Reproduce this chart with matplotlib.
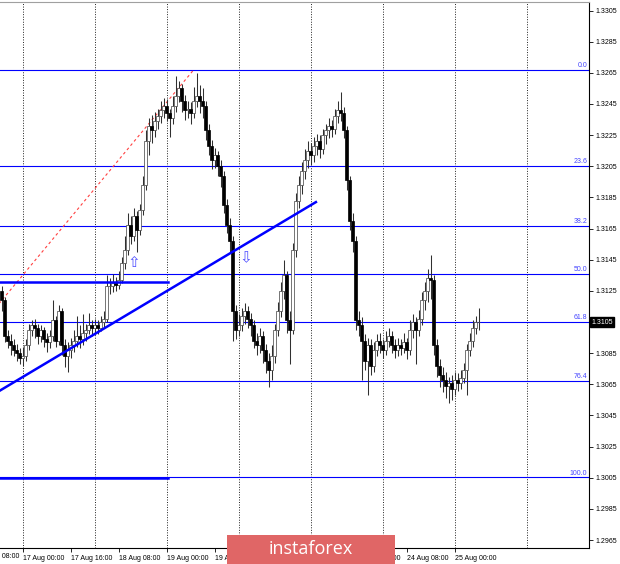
"""
GBP/USD H1 chart with Fibonacci retracement, trend line and levels
(MetaTrader style screenshot recreation).
"""

import numpy as np
import matplotlib
matplotlib.use("Agg")
import matplotlib.pyplot as plt
from matplotlib.patches import Rectangle
from matplotlib.transforms import blended_transform_factory

# =============================================================================
# Data (H1 candles, open = previous close)
# =============================================================================

first_open = 1.3125

closes = [
    1.3119, 1.3096, 1.3093, 1.3090, 1.3087, 1.3085, 1.3082, 1.3083,
    1.3090, 1.3100, 1.3103, 1.3101,
    1.3096, 1.3100, 1.3094, 1.3092, 1.3096,
    1.3106, 1.3093, 1.3112, 1.3090, 1.3083, 1.3087,
    1.3090, 1.3093, 1.3096, 1.3094, 1.3098, 1.3100, 1.3103, 1.3101, 1.3103,
    1.3101, 1.3105, 1.3107,
    1.3128, 1.3128, 1.3130, 1.3129, 1.3132,
    1.3143, 1.3151, 1.3167, 1.3160, 1.3173, 1.3164,
    1.3177, 1.3193, 1.3221, 1.3231,
    1.3228, 1.3234, 1.3237, 1.3241, 1.3244, 1.3239,
    1.3236, 1.3244, 1.3250, 1.3255, 1.3247,
    1.3241, 1.3242, 1.3239, 1.3247,
    1.3250, 1.3247, 1.3244,
    1.3228, 1.3218, 1.3209, 1.3212, 1.3205, 1.3199,
    1.3180, 1.3167, 1.3157, 1.3112,
    1.3100, 1.3103, 1.3109, 1.3112, 1.3107, 1.3103,
    1.3093, 1.3090, 1.3096, 1.3087, 1.3080, 1.3074, 1.3083,
    1.3100, 1.3112, 1.3125, 1.3135, 1.3106, 1.3100,
    1.3151, 1.3183, 1.3193, 1.3202, 1.3209,
    1.3215, 1.3212, 1.3218, 1.3221, 1.3216,
    1.3225, 1.3228, 1.3231, 1.3229, 1.3237, 1.3241, 1.3239,
    1.3228, 1.3196, 1.3170, 1.3157, 1.3106,
    1.3103, 1.3093, 1.3080, 1.3090, 1.3077, 1.3087,
    1.3093, 1.3090, 1.3087, 1.3093, 1.3096, 1.3090, 1.3087,
    1.3090, 1.3088, 1.3092, 1.3087, 1.3100,
    1.3105, 1.3100, 1.3107, 1.3119, 1.3125, 1.3133, 1.3132,
    1.3090, 1.3077, 1.3071, 1.3068,
    1.3064, 1.3066, 1.3062, 1.3068, 1.3066, 1.3069, 1.3074,
    1.3087, 1.3093, 1.3101, 1.3105, 1.3105,
]

highs = [
    1.3128, 1.3121, 1.3100, 1.3097, 1.3094, 1.3091, 1.3088, 1.3089,
    1.3094, 1.3104, 1.3106, 1.3107,
    1.3104, 1.3103, 1.3102, 1.3098, 1.3100,
    1.3119, 1.3109, 1.3116, 1.3114, 1.3094, 1.3092,
    1.3095, 1.3100, 1.3109, 1.3103, 1.3110, 1.3104, 1.3111, 1.3106, 1.3107,
    1.3106, 1.3109, 1.3112,
    1.3135, 1.3133, 1.3136, 1.3134, 1.3138,
    1.3147, 1.3160, 1.3175, 1.3173, 1.3178, 1.3176,
    1.3181, 1.3199, 1.3228, 1.3236,
    1.3238, 1.3240, 1.3242, 1.3247, 1.3249, 1.3248,
    1.3242, 1.3250, 1.3263, 1.3260, 1.3258,
    1.3251, 1.3247, 1.3246, 1.3256,
    1.3265, 1.3257, 1.3255,
    1.3247, 1.3232, 1.3222, 1.3217, 1.3215, 1.3209,
    1.3202, 1.3184, 1.3172, 1.3160,
    1.3116, 1.3110, 1.3114, 1.3117, 1.3115, 1.3111,
    1.3106, 1.3098, 1.3101, 1.3099, 1.3091, 1.3085, 1.3090,
    1.3104, 1.3118, 1.3131, 1.3145, 1.3138, 1.3112,
    1.3156, 1.3188, 1.3199, 1.3208, 1.3216,
    1.3221, 1.3220, 1.3224, 1.3226, 1.3225,
    1.3229, 1.3232, 1.3236, 1.3235, 1.3242, 1.3247, 1.3253,
    1.3243, 1.3231, 1.3199, 1.3175, 1.3160,
    1.3112, 1.3108, 1.3097, 1.3095, 1.3094, 1.3092,
    1.3097, 1.3098, 1.3094, 1.3099, 1.3101, 1.3099, 1.3094,
    1.3095, 1.3094, 1.3098, 1.3095, 1.3106,
    1.3110, 1.3108, 1.3113, 1.3124, 1.3131, 1.3139, 1.3148,
    1.3135, 1.3094, 1.3081, 1.3076,
    1.3073, 1.3070, 1.3071, 1.3073, 1.3072, 1.3074, 1.3079,
    1.3091, 1.3098, 1.3106, 1.3109, 1.3114,
]

lows = [
    1.3112, 1.3092, 1.3088, 1.3084, 1.3083, 1.3080, 1.3078, 1.3077,
    1.3080, 1.3087, 1.3096, 1.3095,
    1.3091, 1.3092, 1.3089, 1.3086, 1.3088,
    1.3093, 1.3089, 1.3090, 1.3084, 1.3076, 1.3073,
    1.3082, 1.3086, 1.3089, 1.3088, 1.3090, 1.3093, 1.3097, 1.3096, 1.3098,
    1.3097, 1.3099, 1.3102,
    1.3105, 1.3123, 1.3124, 1.3125, 1.3126,
    1.3130, 1.3139, 1.3148, 1.3155, 1.3157, 1.3150,
    1.3161, 1.3174, 1.3190, 1.3212,
    1.3220, 1.3224, 1.3229, 1.3233, 1.3236, 1.3234,
    1.3224, 1.3232, 1.3240, 1.3246, 1.3240,
    1.3235, 1.3236, 1.3232, 1.3236,
    1.3243, 1.3239, 1.3236,
    1.3222, 1.3212, 1.3203, 1.3204, 1.3199, 1.3192,
    1.3175, 1.3162, 1.3150, 1.3093,
    1.3094, 1.3096, 1.3099, 1.3104, 1.3101, 1.3096,
    1.3088, 1.3084, 1.3085, 1.3079, 1.3072, 1.3063, 1.3068,
    1.3079, 1.3096, 1.3108, 1.3120, 1.3098, 1.3078,
    1.3097, 1.3147, 1.3178, 1.3187, 1.3197,
    1.3204, 1.3206, 1.3208, 1.3212, 1.3210,
    1.3213, 1.3219, 1.3223, 1.3224, 1.3226, 1.3233, 1.3234,
    1.3223, 1.3190, 1.3164, 1.3150, 1.3100,
    1.3096, 1.3068, 1.3074, 1.3058, 1.3071, 1.3073,
    1.3083, 1.3085, 1.3082, 1.3084, 1.3089, 1.3085, 1.3082,
    1.3083, 1.3084, 1.3085, 1.3081, 1.3084,
    1.3095, 1.3078, 1.3096, 1.3103, 1.3113, 1.3118, 1.3120,
    1.3084, 1.3070, 1.3063, 1.3060,
    1.3056, 1.3053, 1.3055, 1.3058, 1.3061, 1.3062, 1.3066,
    1.3058, 1.3083, 1.3089, 1.3097, 1.3100,
]

# time axis (bar index -> label)
label_bars = [7, 23, 39, 55, 71, 87, 103, 119, 135, 151]
label_texts = ["17 Aug 00:00", "17 Aug 16:00", "18 Aug 08:00", "19 Aug 00:00",
               "19 Aug 16:00", "20 Aug 08:00", "21 Aug 00:00", "21 Aug 16:00",
               "24 Aug 08:00", "25 Aug 00:00"]
day_bars = [7, 31, 55, 79, 103, 127, 151, 175]

price_ticks = [1.2965, 1.2985, 1.3005, 1.3025, 1.3045, 1.3065, 1.3085, 1.3105,
               1.3125, 1.3145, 1.3165, 1.3185, 1.3205, 1.3225, 1.3245, 1.3265,
               1.3285, 1.3305]
last_price = 1.3105

# Fibonacci grid: anchored low -> high
fib_low, fib_high = 1.30053, 1.32668
fib_low_bar, fib_high_bar = -49, 64
fib_ratios = [0.0, 23.6, 38.2, 50.0, 61.8, 76.4, 100.0]

# analyst drawings
trend_bars = [-0.5, 104.8]
trend_prices = [1.3061, 1.3182]
level_upper = 1.3131
level_lower = 1.3005
level_end_bar = 55.5
arrow_up = (44.2, 1.3143)
arrow_down = (81.5, 1.3146)

# =============================================================================
# Figure
# =============================================================================

plt.rcParams["font.family"] = ["Liberation Sans", "DejaVu Sans"]

fig = plt.figure(figsize=(6.2, 5.64), dpi=100)
ax = fig.add_axes([0.0, 16 / 564, 589 / 620, 546.5 / 564])
ax.set_xlim(-0.5, 195.83)
ax.set_ylim(1.29599, 1.33108)

n = len(closes)
x = np.arange(n)
opens = np.array([first_open] + closes[:-1])
closes_a = np.array(closes)
highs_a = np.array(highs)
lows_a = np.array(lows)
bull = closes_a >= opens

# vertical day separators
for b in day_bars:
    ax.axvline(b, color="#202020", lw=0.7, ls=(0, (1, 1.6)), zorder=1)

# fibo levels
fib_range = fib_high - fib_low
ty = blended_transform_factory(ax.transAxes, ax.transData)
for r in fib_ratios:
    lvl = fib_high - fib_range * r / 100.0
    ax.axhline(lvl, color="#0000ff", lw=0.8, zorder=2)
    ax.text(0.997, lvl + 0.00005, f"{r:.1f}", transform=ty, ha="right",
            va="bottom", fontsize=5, color="#4444ff", zorder=6)

# fibo diagonal
ax.plot([fib_low_bar, fib_high_bar], [fib_low, fib_high], color="#ff4040",
        lw=0.8, ls=(0, (2.5, 2.5)), zorder=2)

# candles
ax.vlines(x, lows_a, highs_a, color="#303030", lw=0.75, zorder=3)
body_lo = np.minimum(opens, closes_a)
body_h = np.maximum(np.abs(closes_a - opens), 0.00003)
ax.bar(x[bull], body_h[bull], bottom=body_lo[bull], width=0.75,
       color="white", edgecolor="#505050", lw=0.55, zorder=4)
ax.bar(x[~bull], body_h[~bull], bottom=body_lo[~bull], width=0.75,
       color="black", edgecolor="black", lw=0.5, zorder=4)

# trend line and horizontal levels
ax.plot(trend_bars, trend_prices, color="#0000ff", lw=1.8, zorder=5)
ax.plot([-0.5, level_end_bar], [level_upper, level_upper], color="#0000ff",
        lw=1.8, zorder=5)
ax.plot([-0.5, level_end_bar], [level_lower, level_lower], color="#0000ff",
        lw=1.8, zorder=5)

# arrows
ax.text(arrow_up[0], arrow_up[1], "\u21e7", family="DejaVu Sans", fontsize=11,
        color="#5050ff", ha="center", va="center", zorder=6)
ax.text(arrow_down[0], arrow_down[1], "\u21e9", family="DejaVu Sans", fontsize=11,
        color="#5050ff", ha="center", va="center", zorder=6)

# axes styling
ax.spines["left"].set_visible(False)
ax.spines["top"].set_color("#a0a0a0")
ax.spines["right"].set_color("black")
ax.spines["bottom"].set_color("black")
for s in ax.spines.values():
    s.set_linewidth(0.8)

ax.yaxis.tick_right()
ax.set_yticks(price_ticks)
# the last-price tag replaces its own tick label
ax.set_yticklabels(["" if p == last_price else f"{p:.4f}" for p in price_ticks])
ax.tick_params(axis="y", direction="out", length=3, width=0.6, labelsize=5,
               pad=2, colors="black")

ax.set_xticks(label_bars)
ax.set_xticklabels(label_texts)
ax.tick_params(axis="x", direction="out", length=3, width=0.6, labelsize=5,
               pad=2)
for lab in ax.get_xticklabels():
    lab.set_ha("left")

# last price tag
ax.text(1.004, last_price, f"{last_price:.4f}", transform=ty, ha="left",
        va="center", fontsize=5, color="white", zorder=10, clip_on=False,
        bbox=dict(boxstyle="square,pad=0.2", facecolor="black",
                  edgecolor="black"))

# cut-off label on the left
fig.text(19 / 620, 1 - 556 / 564, "14 Aug 08:00", ha="right", va="center",
         fontsize=5)

# watermark
fig.patches.append(Rectangle((227 / 620, 0), 168 / 620, 29 / 564,
                             transform=fig.transFigure, facecolor="#e06666",
                             edgecolor="none", zorder=20))
fig.text(311 / 620, 15 / 564, "instaforex", ha="center", va="center",
         fontsize=13, color="white", family="Open Sans", zorder=21)

fig.savefig("out.png", dpi=100)
